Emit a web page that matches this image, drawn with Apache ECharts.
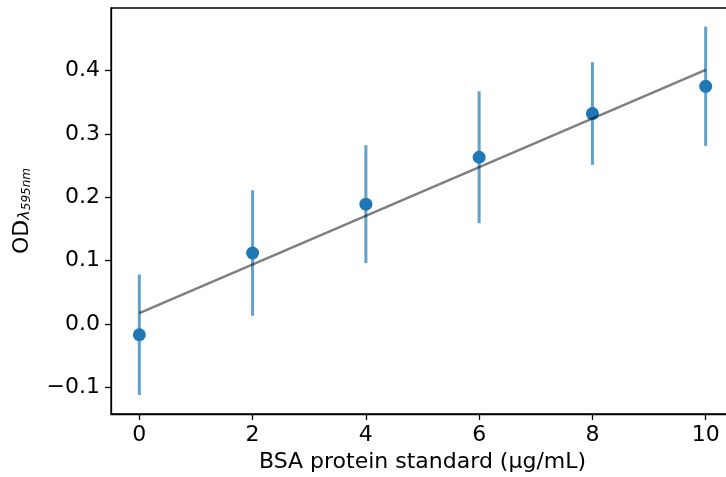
<!DOCTYPE html>
<html>
<head>
<meta charset="utf-8">
<script src="https://cdn.jsdelivr.net/npm/echarts@6/dist/echarts.min.js"></script>
<style>
  html, body { margin: 0; padding: 0; background: #fff; }
  #chart { width: 726px; height: 477px; }
</style>
</head>
<body>
<div id="chart"></div>
<script>
// BSA standard curve data
const concentrations = [0, 2, 4, 6, 8, 10];
const odMeans = [-0.017, 0.112, 0.189, 0.263, 0.332, 0.375];
const odErrors = [0.095, 0.099, 0.093, 0.104, 0.081, 0.094];
const fitX = [0, 10];
const fitY = [0.017, 0.401];
const xTicks = [0, 2, 4, 6, 8, 10];
const yTicks = [-0.1, 0.0, 0.1, 0.2, 0.3, 0.4];

const FONT = 'DejaVu Sans';
const pointColor = '#1f77b4';

const points = concentrations.map((x, i) => [x, odMeans[i]]);
const errorData = concentrations.map((x, i) => [x, odMeans[i] - odErrors[i], odMeans[i] + odErrors[i]]);
const fitLine = fitX.map((x, i) => [x, fitY[i]]);

const chart = echarts.init(document.getElementById('chart'));
chart.setOption({
  animation: false,
  backgroundColor: '#fff',
  textStyle: { fontFamily: FONT },
  grid: {
    left: 111, top: 8, width: 623, bottom: 63,
    outerBoundsMode: 'none',
    containLabel: false,
    show: true, borderColor: '#000', borderWidth: 1.3, backgroundColor: 'transparent'
  },
  xAxis: {
    type: 'value',
    min: -0.5, max: 10.5,
    name: 'BSA protein standard (µg/mL)',
    nameLocation: 'middle',
    nameGap: 36,
    nameTextStyle: { color: '#000', fontSize: 22, fontFamily: FONT },
    axisLine: { show: true, onZero: false, lineStyle: { color: '#000', width: 1.3 } },
    axisTick: { show: true, length: 6, lineStyle: { color: '#000', width: 1.3 }, customValues: xTicks },
    axisLabel: { color: '#000', fontSize: 22, fontFamily: FONT, margin: 10, customValues: xTicks },
    splitLine: { show: false }
  },
  yAxis: {
    type: 'value',
    min: -0.142, max: 0.4985,
    name: '{a|OD}{b|λ}{c|595nm}',
    nameLocation: 'middle',
    nameRotate: 90,
    nameGap: 78,
    nameTextStyle: {
      color: '#000', fontFamily: FONT,
      rich: {
        a: { fontSize: 22, fontFamily: FONT, color: '#000', lineHeight: 30, verticalAlign: 'bottom' },
        b: { fontSize: 16, fontFamily: FONT, fontStyle: 'italic', color: '#000', verticalAlign: 'bottom', lineHeight: 22 },
        c: { fontSize: 12, fontFamily: FONT, fontStyle: 'italic', color: '#000', verticalAlign: 'bottom', lineHeight: 14 }
      }
    },
    axisLine: { show: true, onZero: false, lineStyle: { color: '#000', width: 1.3 } },
    axisTick: { show: true, length: 6, lineStyle: { color: '#000', width: 1.3 }, customValues: yTicks },
    axisLabel: {
      color: '#000', fontSize: 22, fontFamily: FONT, margin: 11, customValues: yTicks,
      formatter: v => (v < 0 ? '\u2212' : '') + Math.abs(v).toFixed(1)
    },
    splitLine: { show: false }
  },
  series: [
    {
      type: 'custom',
      name: 'error',
      data: errorData,
      z: 2,
      clip: false,
      renderItem: (params, api) => {
        const lo = api.coord([api.value(0), api.value(1)]);
        const hi = api.coord([api.value(0), api.value(2)]);
        return {
          type: 'line',
          shape: { x1: lo[0], y1: lo[1], x2: hi[0], y2: hi[1] },
          style: { stroke: 'rgba(31,119,180,0.7)', lineWidth: 3 }
        };
      }
    },
    {
      type: 'scatter',
      name: 'mean',
      data: points,
      z: 3,
      symbol: 'circle',
      symbolSize: 13,
      itemStyle: { color: pointColor, opacity: 1 }
    },
    {
      type: 'line',
      name: 'fit',
      data: fitLine,
      z: 4,
      showSymbol: false,
      symbol: 'none',
      lineStyle: { color: 'rgba(0,0,0,0.5)', width: 2.5 }
    }
  ]
});
</script>
</body>
</html>
